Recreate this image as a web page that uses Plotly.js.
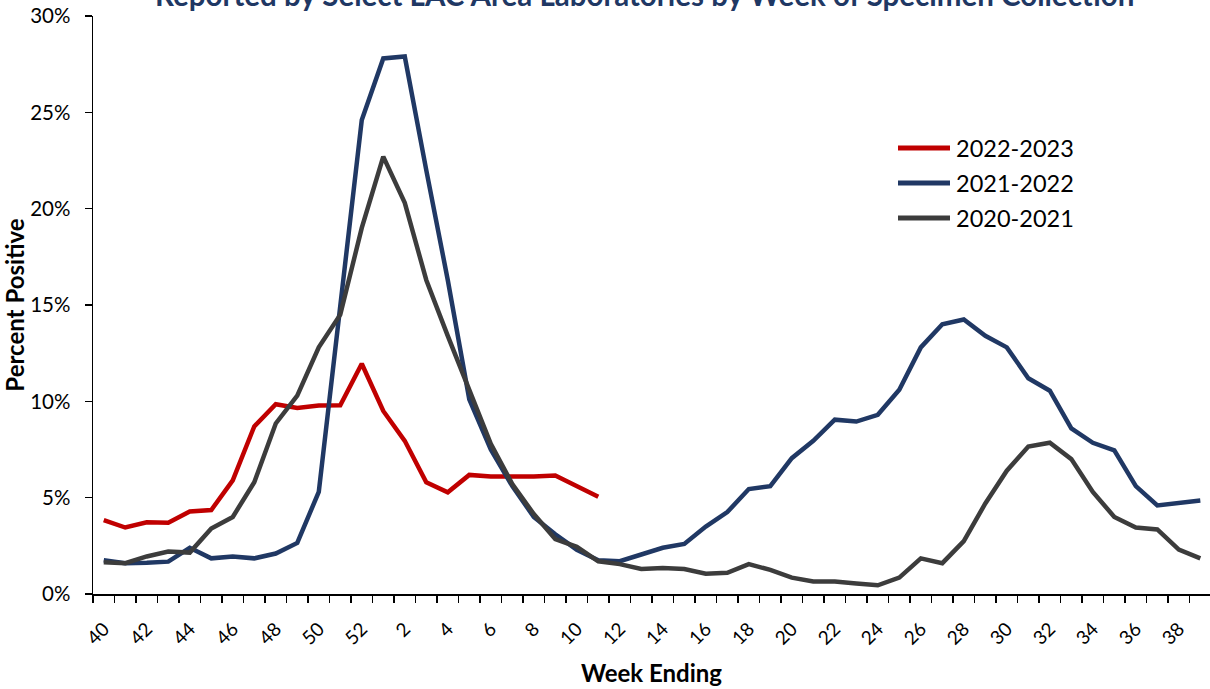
<!DOCTYPE html>
<html>
<head>
<meta charset="utf-8">
<script src="https://cdn.plot.ly/plotly-3.0.1.min.js"></script>
<style>html,body{margin:0;padding:0;background:#fff;}#chart{width:1210px;height:689px;}</style>
</head>
<body>
<div id="chart"></div>
<script>
// Week-ending categories (season runs from week 40 to week 39)
const weeks = [40,41,42,43,44,45,46,47,48,49,50,51,52,1,2,3,4,5,6,7,8,9,10,11,12,13,14,15,16,17,18,19,20,21,22,23,24,25,26,27,28,29,30,31,32,33,34,35,36,37,38,39];

// Percent positive by season
const s2022_2023 = [3.84,3.45,3.72,3.70,4.28,4.36,5.90,8.70,9.85,9.65,9.78,9.80,11.95,9.50,7.95,5.80,5.28,6.18,6.10,6.08,6.10,6.15,5.60,5.05];
const s2021_2022 = [1.75,1.60,1.62,1.68,2.40,1.85,1.95,1.85,2.10,2.65,5.30,15.0,24.6,27.8,27.9,22.0,16.3,10.1,7.50,5.60,4.00,3.10,2.30,1.75,1.70,2.05,2.40,2.60,3.50,4.25,5.45,5.60,7.05,7.95,9.05,8.95,9.30,10.6,12.8,14.0,14.25,13.4,12.8,11.2,10.55,8.60,7.85,7.45,5.60,4.60,4.70,4.85];
const s2020_2021 = [1.65,1.60,1.95,2.20,2.15,3.40,4.00,5.80,8.85,10.3,12.8,14.5,19.0,22.7,20.3,16.3,13.4,10.6,7.80,5.70,4.15,2.85,2.45,1.70,1.55,1.30,1.35,1.30,1.05,1.10,1.55,1.25,0.85,0.65,0.65,0.55,0.45,0.85,1.85,1.60,2.75,4.70,6.40,7.65,7.85,7.00,5.30,4.00,3.45,3.35,2.30,1.85];

const seriesNames = ['2022-2023','2021-2022','2020-2021'];
const seriesColors = ['#C00000','#203864','#3C3C3C'];
const seriesData = [s2022_2023, s2021_2022, s2020_2021];

const yTickVals = [0,5,10,15,20,25,30];
const yTickText = ['0%','5%','10%','15%','20%','25%','30%'];

const titleText = 'Reported by Select LAC Area Laboratories by Week of Specimen Collection';

const idx = weeks.map((w,i)=>i);
const labelIdx = idx.filter(i => weeks[i] % 2 === 0);
const labelText = labelIdx.map(i => String(weeks[i]));

const FONT = 'Lato, "Liberation Sans", sans-serif';

const traces = seriesData.map((vals,k)=>({
  x: vals.map((v,i)=>idx[i]),
  y: vals,
  type: 'scatter',
  mode: 'lines',
  name: seriesNames[k],
  line: {color: seriesColors[k], width: 4.5},
  showlegend: false
}));

// legend drawn as shapes + annotations (pixel layout converted to paper coords)
const L = 93, R = 1210, T = 16, B = 594;
const px = v => (v - L) / (R - L);
const py = v => (B - v) / (B - T);
const legendRows = [148, 183, 218];
const legendShapes = seriesNames.map((n,k)=>({
  type: 'line', xref: 'paper', yref: 'paper',
  x0: px(898), x1: px(950), y0: py(legendRows[k]), y1: py(legendRows[k]),
  line: {color: seriesColors[k], width: 5}
}));
const legendText = seriesNames.map((n,k)=>({
  text: n, xref: 'paper', yref: 'paper', x: px(954), y: py(legendRows[k]),
  xanchor: 'left', yanchor: 'middle', showarrow: false,
  font: {family: FONT, size: 23.5, color: '#000'}
}));

const layout = {
  width: 1210, height: 689,
  margin: {l: L, r: 1210 - R, t: T, b: 689 - B},
  paper_bgcolor: '#fff', plot_bgcolor: '#fff',
  font: {family: FONT, color: '#000', size: 20},
  showlegend: false,
  xaxis: {
    range: [-0.5, 51.45],
    showgrid: false, zeroline: false,
    showline: true, linecolor: '#000', linewidth: 1.5,
    tickmode: 'array', tickvals: labelIdx, ticktext: labelText,
    ticks: '', tickangle: -45, ticklabelstandoff: 15,
    tickfont: {family: FONT, size: 19, color: '#000'},
    minor: {tickmode: 'linear', tick0: -0.5, dtick: 1, ticks: 'outside', ticklen: 7, tickcolor: '#000', tickwidth: 1.2, showgrid: false},
    title: {text: '<b>Week Ending</b>', font: {family: FONT, size: 24, color: '#000'}, standoff: 17}
  },
  yaxis: {
    range: [0, 30],
    showgrid: false, zeroline: false,
    showline: true, linecolor: '#000', linewidth: 1.5,
    tickmode: 'array', tickvals: yTickVals, ticktext: yTickText,
    ticks: 'outside', ticklen: 7, tickcolor: '#000', tickwidth: 1.2, ticklabelstandoff: 10,
    tickfont: {family: FONT, size: 20.5, color: '#000'},
    title: {text: '<b>Percent Positive</b>', font: {family: FONT, size: 24, color: '#000'}, standoff: 0}
  },
  shapes: legendShapes,
  annotations: [{
    text: '<b>' + titleText + '</b>',
    xref: 'paper', yref: 'paper', x: 0.494, y: 1.0367,
    xanchor: 'center', yanchor: 'middle', showarrow: false,
    font: {family: FONT, size: 29.5, color: '#1F3864'}
  }].concat(legendText)
};

Plotly.newPlot('chart', traces, layout, {displayModeBar: false, staticPlot: true});
</script>
</body>
</html>
